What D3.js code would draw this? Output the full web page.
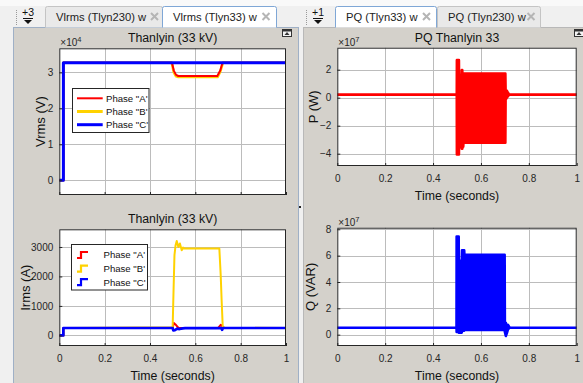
<!DOCTYPE html>
<html><head><meta charset="utf-8">
<script src="https://cdn.jsdelivr.net/npm/d3@7"></script>
<style>
html,body{margin:0;padding:0;background:#f0f0f0;}
text{font-family:"Liberation Sans",Arial,sans-serif;}
</style></head>
<body>
<script>
// ---------------- DATA ----------------
const xTicks = [0, 0.2, 0.4, 0.6, 0.8, 1];
const vrmsTicks = [0, 1, 2, 3];          // x10^4 V
const irmsTicks = [0, 1000, 2000, 3000]; // A
const pTicks = [-4, -2, 0, 2];           // x10^7 W
const qTicks = [0, 2, 4, 6, 8];          // x10^7 VAR
const phaseNames = ['Phase "A\'', 'Phase "B\'', 'Phase "C\''];
const phaseColors = ['#ff0000', '#ffd200', '#0000ff'];

// Vrms (x10^4 V)
const vrmsA_t = [0, 0.018, 0.018, 0.497, 0.505, 0.515, 0.525, 0.697, 0.71, 0.72, 1];
const vrmsA_v = [0, 0, 3.27, 3.27, 3.05, 2.93, 2.9, 2.9, 3.05, 3.27, 3.27];
const vrmsB_t = [0, 0.018, 0.018, 0.496, 0.505, 0.515, 0.525, 0.698, 0.71, 0.722, 1];
const vrmsB_v = [0, 0, 3.27, 3.27, 3.0, 2.89, 2.87, 2.87, 3.02, 3.27, 3.27];
const vrmsC_t = [0, 0.018, 0.018, 1];
const vrmsC_v = [0, 0, 3.27, 3.27];

// Irms (A)
const irmsA_t = [0, 0.018, 0.018, 0.5, 0.505, 0.515, 0.525, 0.7, 0.712, 0.72, 0.725, 1];
const irmsA_v = [0, 0, 250, 250, 420, 350, 260, 250, 360, 300, 250, 250];
const irmsB_t = [0, 0.018, 0.018, 0.5, 0.504, 0.508, 0.513, 0.518, 0.525, 0.532, 0.54, 0.546, 0.552, 0.706, 0.712, 0.716, 0.721, 0.73, 1];
const irmsB_v = [0, 0, 250, 280, 1540, 2720, 3060, 3200, 3000, 3120, 2890, 2980, 2945, 2945, 2040, 1200, 290, 260, 250];
const irmsC_t = [0, 0.018, 0.018, 0.5, 0.503, 0.51, 0.52, 0.53, 0.545, 0.555, 0.715, 0.718, 0.722, 1];
const irmsC_v = [0, 0, 250, 250, 170, 180, 230, 215, 240, 245, 245, 190, 250, 250];

// P envelope (x10^7 W)
const p_t  = [0, 0.499, 0.4995, 0.508, 0.5085, 0.519, 0.52, 0.522, 0.523, 0.526, 0.527, 0.702, 0.703, 0.708, 0.713, 0.718, 1];
const p_hi = [0.22, 0.22, 2.68, 2.68, 1.5, 1.5, 1.98, 1.98, 1.5, 1.5, 1.72, 1.72, 0.55, 0.5, 0.35, 0.22, 0.22];
const p_lo = [0.22, 0.22, -4.05, -4.05, -3.5, -3.5, -3.65, -3.65, -3.5, -3.5, -3.21, -3.21, -0.15, 0.0, 0.1, 0.22, 0.22];

// Q envelope (x10^7 VAR)
const q_t  = [0, 0.498, 0.4985, 0.507, 0.5075, 0.52, 0.521, 0.53, 0.531, 0.699, 0.70, 0.704, 0.708, 0.713, 0.72, 1];
const q_hi = [0.53, 0.53, 7.45, 7.45, 5.6, 5.6, 6.4, 6.4, 6.06, 6.06, 0.9, 0.9, 0.6, 0.75, 0.53, 0.53];
const q_lo = [0.53, 0.53, 0.2, 0.2, 0.15, 0.15, 0.3, 0.3, 0.36, 0.36, 0.2, -0.1, 0.1, 0.4, 0.53, 0.53];

// ---------------- CHROME ----------------
const W = 583, H = 383;
const svg = d3.select('body').append('svg').attr('width', W).attr('height', H);
svg.append('rect').attr('width', W).attr('height', H).attr('fill', '#f0f0f0');
svg.append('rect').attr('width', W).attr('height', 6).attr('fill', '#f9f9f9');

const bodyFill = '#d4d1cb';
svg.append('rect').attr('x', 13.5).attr('y', 27.5).attr('width', 285).attr('height', 360)
  .attr('fill', bodyFill).attr('stroke', '#9fb0c6');
svg.append('rect').attr('x', 303.5).attr('y', 27.5).attr('width', 285).attr('height', 360)
  .attr('fill', bodyFill).attr('stroke', '#b8b8b8');
svg.append('rect').attr('x', 299).attr('y', 206).attr('width', 2).attr('height', 2).attr('fill', '#222');

function grip(x) {
  for (let yy = 10; yy <= 24; yy += 2)
    svg.append('rect').attr('x', x).attr('y', yy).attr('width', 1).attr('height', 1).attr('fill', '#999');
}
function overflowBtn(cx, label) {
  svg.append('text').attr('x', cx).attr('y', 16).attr('text-anchor', 'middle')
    .attr('font-size', 10.5).attr('fill', '#111').text(label);
  svg.append('line').attr('x1', cx - 5).attr('x2', cx + 5).attr('y1', 18.5).attr('y2', 18.5)
    .attr('stroke', '#111').attr('stroke-width', 1);
  svg.append('path').attr('d', `M${cx - 4},20 L${cx + 4},20 L${cx},24 Z`).attr('fill', '#111');
}
function tab(x0, x1, label, active, closeX) {
  svg.append('path')
    .attr('d', `M${x0 + 0.5},27.5 L${x0 + 0.5},8.5 Q${x0 + 0.5},6.5 ${x0 + 2.5},6.5 L${x1 - 2.5},6.5 Q${x1 - 0.5},6.5 ${x1 - 0.5},8.5 L${x1 - 0.5},27.5`)
    .attr('fill', active ? '#ffffff' : '#e9e9e9')
    .attr('stroke', active ? '#7fa7d6' : '#c4c4c4');
  svg.append('text').attr('x', x0 + 11).attr('y', 21).attr('font-size', 11.2)
    .attr('fill', '#222').text(label);
  const c = closeX, cy = 16.5;
  svg.append('path').attr('d', `M${c - 3.5},${cy - 3.5} L${c + 3.5},${cy + 3.5} M${c + 3.5},${cy - 3.5} L${c - 3.5},${cy + 3.5}`)
    .attr('stroke', '#b5b5b5').attr('stroke-width', 2);
}
grip(16); overflowBtn(28, '+3');
tab(45, 163, 'Vlrms (Tlyn230) w', false, 154.5);
tab(162, 277, 'Vlrms (Tlyn33) w', true, 266);
grip(306); overflowBtn(318, '+1');
tab(335, 437, 'PQ (Tlyn33) w', true, 426.5);
tab(437, 541, 'PQ (Tlyn230) w', false, 531);

function undock(x, y) {
  svg.append('rect').attr('x', x + 0.5).attr('y', y + 0.5).attr('width', 9).attr('height', 7)
    .attr('fill', '#f4f4f4').attr('stroke', '#333');
  svg.append('rect').attr('x', x + 0.5).attr('y', y + 0.5).attr('width', 9).attr('height', 2).attr('fill', '#333');
  svg.append('path').attr('d', `M${x + 5},${y + 3} L${x + 7.5},${y + 6} L${x + 2.5},${y + 6} Z`).attr('fill', '#333');
}
undock(282, 29);
undock(574, 29);

// ---------------- AXES ----------------
let clipId = 0;
function makeAxes(cfg) {
  const x = d3.scaleLinear().domain([0, 1]).range([cfg.l, cfg.r]);
  const y = d3.scaleLinear().domain(cfg.yd).range([cfg.b, cfg.t]);
  const g = svg.append('g');
  g.append('rect').attr('x', cfg.l).attr('y', cfg.t).attr('width', cfg.r - cfg.l).attr('height', cfg.b - cfg.t)
    .attr('fill', '#fff');
  g.selectAll('.gx').data(xTicks.filter(d => d > 0 && d < 1)).join('line')
    .attr('x1', d => Math.round(x(d)) + 0.5).attr('x2', d => Math.round(x(d)) + 0.5)
    .attr('y1', cfg.t).attr('y2', cfg.b).attr('stroke', '#bcbcbc');
  g.selectAll('.gy').data(cfg.yTicks).join('line')
    .attr('y1', d => Math.round(y(d)) + 0.5).attr('y2', d => Math.round(y(d)) + 0.5)
    .attr('x1', cfg.l).attr('x2', cfg.r).attr('stroke', '#bcbcbc');
  const id = 'clip' + (clipId++);
  svg.append('clipPath').attr('id', id).append('rect')
    .attr('x', cfg.l).attr('y', cfg.t).attr('width', cfg.r - cfg.l).attr('height', cfg.b - cfg.t);
  const plot = svg.append('g').attr('clip-path', `url(#${id})`);

  const ax = svg.append('g');
  const xa = ax.append('g').attr('transform', `translate(0,${cfg.b})`)
    .call(d3.axisBottom(x).tickValues(xTicks).tickSizeInner(-3).tickSizeOuter(0).tickPadding(9)
      .tickFormat(cfg.showX ? d3.format('~g') : ''));
  const ya = ax.append('g').attr('transform', `translate(${cfg.l},0)`)
    .call(d3.axisLeft(y).tickValues(cfg.yTicks).tickSizeInner(-3).tickSizeOuter(0).tickPadding(6)
      .tickFormat(d3.format('~g')));
  [xa, ya].forEach(a => {
    a.selectAll('text').attr('font-size', 10).attr('fill', '#262626')
      .attr('font-family', '"Liberation Sans",Arial,sans-serif');
    a.selectAll('line').attr('stroke', '#262626');
    a.select('.domain').remove();
  });
  svg.append('rect').attr('x', cfg.l + 0.5).attr('y', cfg.t + 0.5)
    .attr('width', cfg.r - cfg.l - 1).attr('height', cfg.b - cfg.t - 1)
    .attr('fill', 'none').attr('stroke', '#262626');
  if (cfg.title) svg.append('text').attr('x', (cfg.l + cfg.r) / 2).attr('y', cfg.t - 6)
    .attr('text-anchor', 'middle').attr('font-size', 12.3).attr('fill', '#111').text(cfg.title);
  if (cfg.exp) {
    const t = svg.append('text').attr('x', cfg.l + 1).attr('y', cfg.t - 2).attr('font-size', 10).attr('fill', '#262626');
    t.append('tspan').text('\u00d710');
    t.append('tspan').attr('dy', -4).attr('font-size', 7.5).text(cfg.exp);
  }
  svg.append('text').attr('transform', `translate(${cfg.ylx},${(cfg.t + cfg.b) / 2}) rotate(-90)`)
    .attr('text-anchor', 'middle').attr('dy', '0.35em').attr('font-size', 13).attr('fill', '#111').text(cfg.ylabel);
  if (cfg.showX) svg.append('text').attr('x', (cfg.l + cfg.r) / 2).attr('y', cfg.b + 33.5)
    .attr('text-anchor', 'middle').attr('font-size', 12.3).attr('fill', '#111').text('Time (seconds)');
  return { x, y, plot };
}

function drawLine(ax, ts, vs, color, w) {
  const line = d3.line().x((d, i) => ax.x(ts[i])).y(d => ax.y(d));
  ax.plot.append('path').datum(vs).attr('d', line).attr('fill', 'none')
    .attr('stroke', color).attr('stroke-width', w).attr('stroke-linejoin', 'round');
}
function drawBand(ax, ts, lo, hi, color) {
  const area = d3.area().x((d, i) => ax.x(ts[i])).y0((d, i) => ax.y(lo[i])).y1(d => ax.y(d));
  ax.plot.append('path').datum(hi).attr('d', area).attr('fill', color)
    .attr('stroke', color).attr('stroke-width', 2.6).attr('stroke-linejoin', 'round');
}

const a1 = makeAxes({ l: 59.3, r: 286, t: 48.3, b: 195, yd: [-0.41, 3.67], yTicks: vrmsTicks,
  title: 'Thanlyin (33 kV)', exp: '4', ylabel: 'Vrms (V)', ylx: 40, showX: false });
drawLine(a1, vrmsB_t, vrmsB_v, phaseColors[1], 2.6);
drawLine(a1, vrmsA_t, vrmsA_v, phaseColors[0], 2);
drawLine(a1, vrmsC_t, vrmsC_v, phaseColors[2], 3);

const a2 = makeAxes({ l: 59.3, r: 286, t: 229.3, b: 346, yd: [-360, 3600], yTicks: irmsTicks,
  title: 'Thanlyin (33 kV)', ylabel: 'Irms (A)', ylx: 25.5, showX: true });
drawLine(a2, irmsA_t, irmsA_v, phaseColors[0], 2);
drawLine(a2, irmsB_t, irmsB_v, phaseColors[1], 2);
drawLine(a2, irmsC_t, irmsC_v, phaseColors[2], 2.7);

const a3 = makeAxes({ l: 337.3, r: 576.7, t: 47.7, b: 166, yd: [-4.88, 3.57], yTicks: pTicks,
  title: 'PQ Thanlyin 33', exp: '7', ylabel: 'P (W)', ylx: 313.5, showX: true });
drawBand(a3, p_t, p_lo, p_hi, '#ff0000');

const a4 = makeAxes({ l: 337.3, r: 576.7, t: 227.7, b: 346, yd: [-0.86, 8.12], yTicks: qTicks,
  exp: '7', ylabel: 'Q (VAR)', ylx: 310.5, showX: true });
drawBand(a4, q_t, q_lo, q_hi, '#0000ff');

// ---------------- LEGENDS ----------------
{
  const g = svg.append('g');
  g.append('rect').attr('x', 72.5).attr('y', 88.5).attr('width', 76.5).attr('height', 44)
    .attr('fill', '#fff').attr('stroke', '#262626');
  const rows = [98.3, 111.5, 124.7];
  phaseNames.forEach((n, i) => {
    g.append('line').attr('x1', 77).attr('x2', 102.7).attr('y1', rows[i]).attr('y2', rows[i])
      .attr('stroke', phaseColors[i]).attr('stroke-width', i === 0 ? 2 : 3);
    g.append('text').attr('x', 106).attr('y', rows[i]).attr('dy', '0.35em').attr('font-size', 9.6)
      .attr('fill', '#111').text(n);
  });
}
{
  const g = svg.append('g');
  g.append('rect').attr('x', 71.5).attr('y', 244.5).attr('width', 76).attr('height', 45.5)
    .attr('fill', '#fff').attr('stroke', '#262626');
  const rows = [255, 268.7, 282.2];
  phaseNames.forEach((n, i) => {
    const cy = rows[i];
    g.append('path').attr('d', `M77,${cy + 3} L81,${cy + 3} L81,${cy - 3} L88,${cy - 3}`)
      .attr('fill', 'none').attr('stroke', phaseColors[i]).attr('stroke-width', 2.2);
    g.append('text').attr('x', 103.5).attr('y', cy).attr('dy', '0.35em').attr('font-size', 9.6)
      .attr('fill', '#111').text(n);
  });
}
</script>
</body></html>
